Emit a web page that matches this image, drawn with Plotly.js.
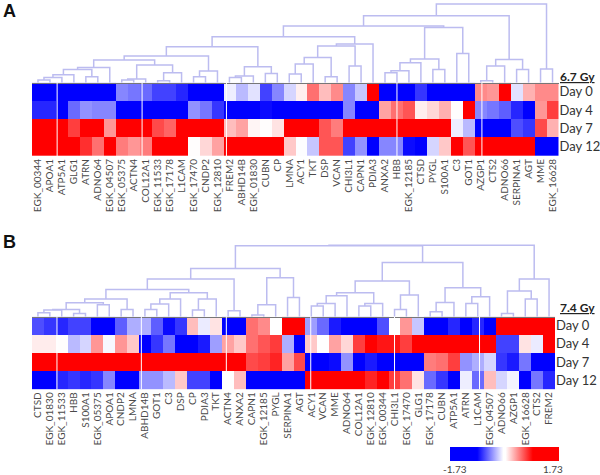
<!DOCTYPE html>
<html><head><meta charset="utf-8">
<script src="https://cdn.plot.ly/plotly-3.0.1.min.js"></script>
<style>html,body{margin:0;padding:0;background:#fff}#chart{width:600px;height:475px}</style>
</head><body><div id="chart"></div>
<script>
const days = ['Day 0','Day 4','Day 7','Day 12'];
const genesA = ['EGK_00344','APOA1','ATP5A1','GLG1','ATRN','ADNO64','EGK_04507','EGK_05375','ACTN4','COL12A1','EGK_11533','EGK_17178','L1CAM','EGK_17470','CNDP2','EGK_12810','FREM2','ABHD14B','EGK_01830','CUBN','CP','LMNA','ACY1','TKT','DSP','VCAN','CHI3L1','CAPN1','PDIA3','ANXA2','HBB','EGK_12185','CTSD','PYGL','S100A1','C3','GOT1','AZGP1','CTS2','ADNO66','SERPINA1','AGT','MME','EGK_16628'];
const genesB = ['CTSD','EGK_01830','EGK_11533','HBB','S100A1','EGK_05375','APOA1','CNDP2','LMNA','ABHD14B','GOT1','C3','DSP','CP','PDIA3','TKT','ACTN4','ANXA2','CAPN1','EGK_12185','PYGL','SERPINA1','AGT','ACY1','VCAN','MME','ADNO64','COL12A1','EGK_12810','EGK_00344','CHI3L1','EGK_17470','GLG1','EGK_17178','CUBN','ATP5A1','ATRN','L1CAM','EGK_04507','ADNO66','AZGP1','EGK_16628','CTS2','FREM2'];

const a0 = [-1.3,-1.3,-1.3,-1.3,-1.3,-1.3,-1.3,-.43,-.48,-.52,-.65,-.65,-.74,-1.3,-1.3,-1.3,-.09,-.26,-.13,-.65,-.43,-.17,.09,.52,.26,.43,-.43,-.22,1.3,-1.3,-1.3,-1.3,-.69,-1.3,-1.3,-1.3,-1.3,.43,.39,1.3,-.13,.3,.43,.43];
const a4 = [-.74,-.74,-1.3,-.52,-.39,-.43,-.43,-1.3,-1.3,-1.3,-1.3,-1.3,-1.3,-.39,-.48,-.69,-1.3,-1.3,-1.3,-.83,-1.3,-1.3,-1.3,-1.3,-1.3,-1.3,-.43,-1.3,-1.3,.35,.52,.61,.09,.17,.3,.04,1.3,-.43,-.48,-.56,-.74,-1.3,.39,.69];
const a7 = [1.3,1.3,1.3,.69,1.3,1.3,.39,1.3,1.3,1.3,.65,.56,1.3,1.3,1.3,1.3,.26,.35,.07,.04,.13,1.3,1.3,1.3,.61,.48,1.3,1.3,1.3,1.3,1.3,1.3,1.3,1.3,1.3,-.09,-.26,-1.3,-1.3,-1.3,-.61,-.69,.65,.3];
const a12 = [1.3,1.3,1.3,1.3,.74,.52,1.3,.48,.39,.48,1.3,1.3,1.3,.04,.17,.35,1.3,1.3,1.3,1.3,1.3,.22,-.04,-.22,.61,.61,-.65,-.39,-1.3,-.43,-.43,-.83,-1.3,-.17,.22,1.3,.61,1.3,1.3,1.3,1.3,1.3,-1.3,-1.3];

const b0 = [-.61,-.69,-.74,-.65,-.65,-1.3,-1.3,-.56,-.3,-.3,-.56,-.83,-.69,.26,-.1,.13,-1.3,-1.3,.52,.43,.03,1.3,1.3,-.35,-.52,-.78,-1.3,-1.3,-1.3,-.61,.02,.39,-.22,-1.3,-1.3,-.74,-1.3,-.74,-1.3,1.3,1.3,1.3,1.3,1.3];
const b4 = [.1,.1,.04,-.26,-.17,.39,-.06,.39,.22,-1.3,-.69,-.48,-1.3,-1.3,-.78,-.35,.35,.22,.52,.61,.7,-.3,-1.3,.22,0,.35,.17,.69,1.3,.83,.83,.69,1.3,1.3,1.3,1.3,1.3,1.3,1.3,-.65,-.65,.13,-.1,1.3];
const b7 = [1.3,1.3,1.3,1.3,1.3,1.3,1.3,1.3,1.3,1.3,1.3,1.3,1.3,1.3,1.3,1.3,1.3,1.3,.65,.69,.78,.35,.65,-1.3,-1.3,-.83,-.39,-1.3,-.78,-1.3,-1.3,-1.3,-1.3,.48,.52,.69,-.39,-.3,-.17,-.69,-.78,-.48,-1.3,-1.3];
const b12 = [-1.3,-1.3,-.74,-.69,-.74,-.69,-.43,-1.3,-1.3,-.39,-.39,-.26,.22,-.65,-.65,-1.3,0,.26,-1.3,-1.3,-1.3,-1.3,-1.3,1.3,1.3,1.3,1.3,1.3,.78,1.3,.69,.52,.13,-.52,-.69,-1.3,-.09,-.52,.26,-.17,-.07,-1.3,-.48,-.74];

// Dendrograms: [left, right, height]; a number is a leaf, height is in the dendrogram's own units.
const a1 = [[[[0,1,2.7],2,5.3],3,8],[4,5,6],13.3];
const a2 = [a1,6,15.3];
const a3 = [[[7,8,2.7],9,3.7],[[10,11,2],12,10],17.7];
const a4n = [[a2,a3,22.7],[[13,14,6],15,11.7],26.7];
const a5 = [[[16,17,5.3],18,6.7],[19,20,9.3],16];
const a6 = [a4n,a5,36];
const a7n = [[[21,22,8.7],23,18.7],[24,25,6],25.3];
const a8 = [[a7n,[26,27,16.7],36.7],28,38.7];
const a9 = [[[[[29,30,10],31,12],32,20],[33,34,13.3],23.7],[35,36,29.3],55.3];
const a10 = [[[a6,a8,46],a9,56.7],[[[37,38,2],39,16.7],[40,41,13.3],23.3],67];
const rootA = [a10,[42,43,13.7],78.7];

const b1 = [[[[0,1,4],2,6.7],[3,4,3.3],7.3],[5,6,12],14];
const b2 = [b1,[7,8,7.3],17.7];
const b3 = [[[[9,10,7.3],11,12.7],12,17.7],[[13,14,6.7],15,17.7],24];
const b4n = [[b2,b3,27.3],[16,17,6],37.7];
const b5 = [[[18,19,1.7],20,12],[21,22,19.3],39];
const b6 = [b4n,b5,48.3];
const b7n = [[[[23,24,10.7],25,13.3],26,21],[[27,28,10.7],29,13.3],24];
const b8 = [b7n,[[30,31,7.3],32,21.7],35.7];
const b9 = [[[33,34,5],35,14.3],[[36,37,13.3],38,20],29];
const b10 = [b8,b9,54.3];
const b11 = [[[39,40,3.3],[41,42,17.7],25.7],43,37.7];
const rootB = [[b6,b10,71],b11,71.5];

const seamsA = [1.6,8.7,15.75,30.0,37.1];
const seamsB = [1.6,8.7,15.85,22.95,30.0,37.15];

const colorscale = [[0,'#0000ff'],[0.25,'#0000ff'],[0.49,'#ffffff'],[0.51,'#ffffff'],[0.76,'#ff0000'],[1,'#ff0000']];
const W = 600, H = 475;
const px = v => v / W, py = v => 1 - v / H;

function segments(node) {
  const xs = [], ys = [];
  (function walk(n) {
    if (typeof n === 'number') return {x: n, h: 0};
    const l = walk(n[0]), r = walk(n[1]);
    xs.push(l.x, l.x, r.x, r.x, null);
    ys.push(l.h, n[2], n[2], r.h, null);
    return {x: (l.x + r.x) / 2, h: n[2]};
  })(node);
  return {xs, ys};
}
const idx = genesA.map((_, i) => i);
const dA = segments(rootA), dB = segments(rootB);
const dendroLine = {color: '#bcbcf0', width: 1.5};

const data = [
  {type:'heatmap', x:idx, y:days, z:[a0,a4,a7,a12], coloraxis:'coloraxis', xaxis:'x', yaxis:'y'},
  {type:'heatmap', x:idx, y:days, z:[b0,b4,b7,b12], coloraxis:'coloraxis', xaxis:'x2', yaxis:'y2'},
  {type:'scatter', mode:'lines', x:dA.xs, y:dA.ys, xaxis:'x3', yaxis:'y3', line:dendroLine, hoverinfo:'skip', cliponaxis:false},
  {type:'scatter', mode:'lines', x:dB.xs, y:dB.ys, xaxis:'x4', yaxis:'y4', line:dendroLine, hoverinfo:'skip', cliponaxis:false}
];

const geneAxis = (ticks, dom, anchor) => ({
  domain: dom, anchor, range:[-0.5,43.5], tickmode:'array', tickvals:idx, ticktext:ticks, tickangle:-90,
  ticks:'', showgrid:false, zeroline:false, automargin:false,
  tickfont:{family:'Lato, sans-serif', size:10, color:'#4a4a4a'}
});
const dayAxis = (dom, anchor) => ({
  domain: dom, anchor, side:'right', autorange:false, range:[3.5,-0.5], type:'category',
  categoryorder:'array', categoryarray:days, showgrid:false, zeroline:false, ticks:'', automargin:false,
  tickfont:{family:'Lato, sans-serif', size:13, color:'#333'}
});
const dendroX = (dom, anchor) => ({domain:dom, anchor, range:[-0.5,43.5], showgrid:false, zeroline:false,
  showticklabels:false, ticks:'', showline:true, linecolor:'#777', linewidth:1});
const dendroY = (dom, anchor, top) => ({domain:dom, anchor, range:[0,top], showgrid:false, zeroline:false,
  showticklabels:false, ticks:''});

const xDomA = [px(32), px(558.5)], xDomB = [px(32), px(555)];
const seamShape = (x, xref, yref) => ({type:'line', xref, yref:yref+' domain', x0:x, x1:x, y0:0, y1:1, line:{color:'#fff', width:1}, layer:'above'});
const shapes = seamsA.map(s => seamShape(s,'x','y')).concat(seamsB.map(s => seamShape(s,'x2','y2')));
shapes.push({type:'line', xref:'paper', yref:'paper', x0:px(481.7), x1:px(481.7), y0:py(447), y1:py(461), line:{color:'#fff', width:1}});

const note = (text, x, y, font, xanchor='left') => ({text, xref:'paper', yref:'paper', x:px(x), y:py(y), xanchor, yanchor:'middle', showarrow:false, borderpad:0, font});
const boldF = {family:'Lato, sans-serif', size:12, color:'#222'};
const letter = {family:'Liberation Sans, Arial, sans-serif', size:18, color:'#111'};
const cbF = {family:'Lato, sans-serif', size:10, color:'#444'};

const layout = {
  width:W, height:H, margin:{l:0,r:0,t:0,b:0}, paper_bgcolor:'#fff', plot_bgcolor:'#fff', showlegend:false,
  coloraxis:{cmin:-1.73, cmax:1.73, colorscale, colorbar:{orientation:'h', thickness:14, thicknessmode:'pixels', len:109, lenmode:'pixels',
    x:px(504.5), xanchor:'center', y:py(461), yanchor:'bottom', xpad:0, ypad:0, outlinewidth:0, showticklabels:false, ticks:''}},
  xaxis:geneAxis(genesA, xDomA, 'y'),
  yaxis:dayAxis([py(156), py(82.7)], 'x'),
  xaxis2:geneAxis(genesB, xDomB, 'y2'),
  yaxis2:dayAxis([py(389.3), py(316.7)], 'x2'),
  xaxis3:dendroX(xDomA, 'y3'),
  yaxis3:dendroY([py(82.7), 1], 'x3', 82.7),
  xaxis4:dendroX(xDomB, 'y4'),
  yaxis4:dendroY([py(316.7), py(230)], 'x4', 86.7),
  shapes,
  annotations:[
    note('<b>A</b>', 2, 10.5, letter),
    note('<b>B</b>', 2, 241.5, letter),
    note('<b><u>6.7 Gy</u></b>', 559, 76, boldF),
    note('<b><u>7.4 Gy</u></b>', 559, 307, boldF),
    note('-1.73', 455, 468.5, cbF, 'center'),
    note('1.73', 553, 468.5, cbF, 'center')
  ]
};
Plotly.newPlot('chart', data, layout, {displayModeBar:false, responsive:false});
</script></body></html>
